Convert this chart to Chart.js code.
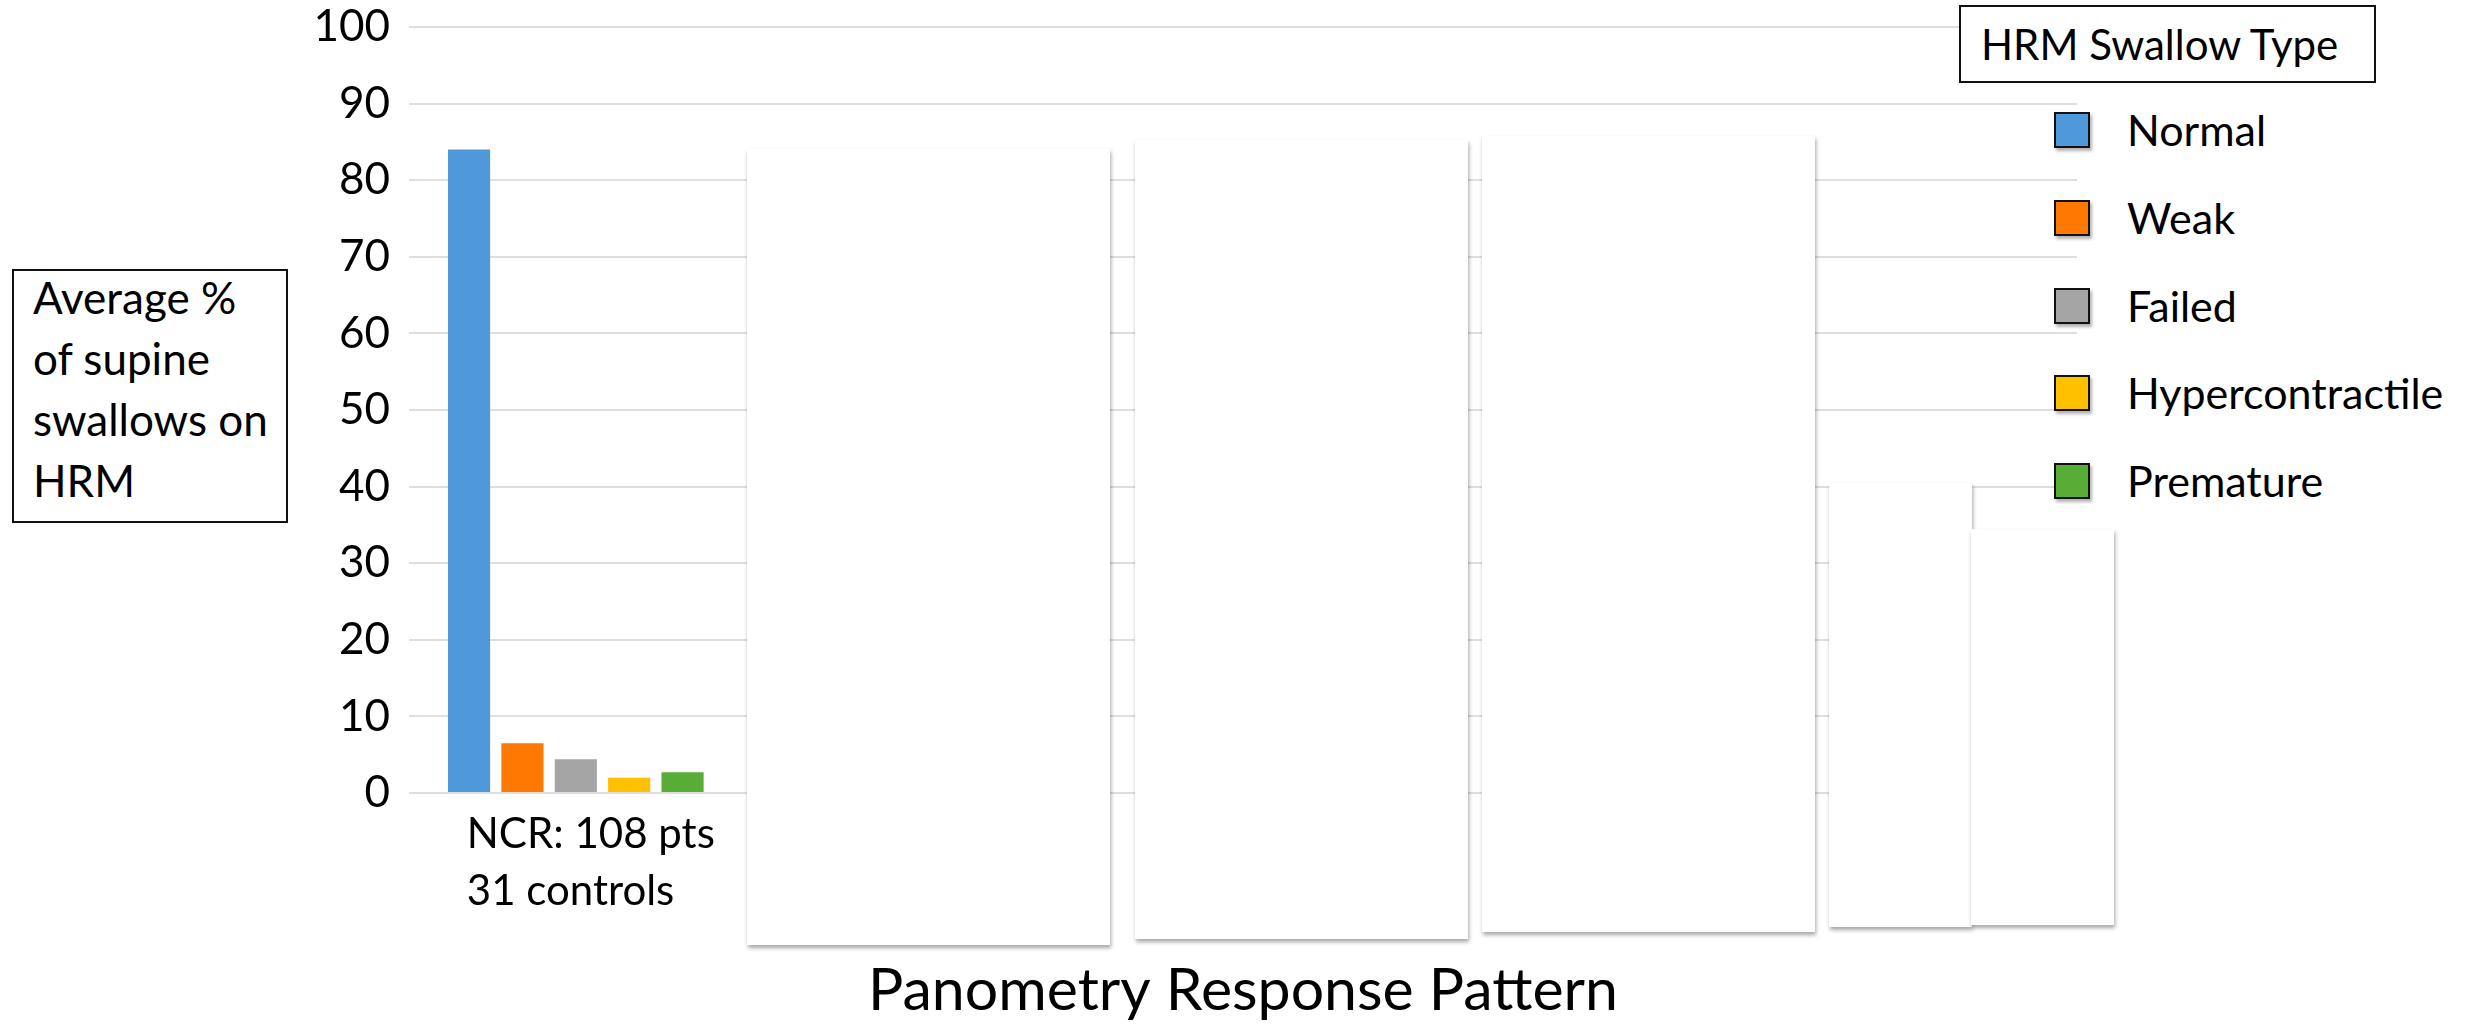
<!DOCTYPE html>
<html>
<head>
<meta charset="utf-8">
<script src="https://cdn.jsdelivr.net/npm/chart.js@4.4.1/dist/chart.umd.min.js"></script>
<style>
  body { margin: 0; background: #fff; font-family: Lato, sans-serif; }
  #wrap { position: relative; width: 2466px; height: 1026px; overflow: hidden; }
  #chart { position: absolute; left: 0; top: 0; }
  .cover { position: absolute; background: #fff; box-shadow: 1px 3px 4px rgba(0,0,0,0.35); }
  .box { position: absolute; box-sizing: border-box; border: 2px solid #111; background: #fff; color: #000; }
  .swatch { position: absolute; box-sizing: border-box; width: 36px; height: 36px; border: 2px solid #111;
            box-shadow: 2px 3px 3px rgba(0,0,0,0.3); }
  .ltext { position: absolute; left: 2105px; width: 361px; height: 88px; padding-left: 22px; box-sizing: border-box;
           background: #fff; font-size: 43px; line-height: 88px; color: #000; white-space: nowrap; }
</style>
</head>
<body>
<div id="wrap">
  <canvas id="chart" width="2466" height="1026"></canvas>
  <div class="box" style="left:12px;top:269px;width:276px;height:254px;padding-left:19px;">
    <div style="margin-top:-4px;font-size:44px;line-height:61px;">Average %<br>of supine<br>swallows on<br>HRM</div>
  </div>
  <div class="box" style="left:1959px;top:5px;width:417px;height:78px;padding-left:20px;font-size:42px;line-height:74px;">HRM Swallow Type</div>
  <div id="legend"></div>
</div>
<script>
// categories on the x axis (only the first one is shown, the rest are covered)
const categories = [["NCR: 108 pts", "31 controls"], "", "", "", ""];
const swallowTypes = ["Normal", "Weak", "Failed", "Hypercontractile", "Premature"];
const colors = ["#4F98D9", "#FF7800", "#A5A5A5", "#FFC000", "#58AD36"];

// average % of supine swallows per type
const normal = [84, null, null, null, null];
const weak = [6.5, null, null, null, null];
const failed = [4.4, null, null, null, null];
const hypercontractile = [2.0, null, null, null, null];
const premature = [2.7, null, null, null, null];

const seriesValues = [normal, weak, failed, hypercontractile, premature];

// white boxes that hide the other response patterns
const covers = [
  [747, 149, 363, 796],
  [1135, 140, 333, 799],
  [1482, 136, 333, 796],
  [1829, 483, 143, 444],
  [1971, 529, 143, 396]
];

const wrap = document.getElementById("wrap");
covers.forEach(c => {
  const d = document.createElement("div");
  d.className = "cover";
  d.style.left = c[0] + "px";
  d.style.top = c[1] + "px";
  d.style.width = c[2] + "px";
  d.style.height = c[3] + "px";
  wrap.appendChild(d);
});

const legend = document.getElementById("legend");
swallowTypes.forEach((name, i) => {
  const top = 112 + i * 87.75;
  const sw = document.createElement("div");
  sw.className = "swatch";
  sw.style.left = "2054px";
  sw.style.top = top + "px";
  sw.style.background = colors[i];
  legend.appendChild(sw);
  const t = document.createElement("div");
  t.className = "ltext";
  t.style.top = (top - 26) + "px";
  t.innerText = name;
  legend.appendChild(t);
});

Chart.defaults.font.family = "Lato";
Chart.defaults.color = "#000";

const ctx = document.getElementById("chart").getContext("2d");
new Chart(ctx, {
  type: "bar",
  data: {
    labels: categories,
    datasets: swallowTypes.map((name, i) => ({
      label: name,
      data: seriesValues[i],
      backgroundColor: colors[i],
      categoryPercentage: 0.8,
      barPercentage: 0.79
    }))
  },
  options: {
    responsive: false,
    animation: false,
    layout: { padding: { top: 27, right: 389, bottom: 0, left: 0 } },
    plugins: { legend: { display: false }, tooltip: { enabled: false } },
    scales: {
      x: {
        grid: { display: false, drawTicks: false },
        border: { display: false },
        ticks: { align: "start", labelOffset: -109, padding: 13, font: { size: 42, lineHeight: 1.357 }, maxRotation: 0, autoSkip: false },
        title: { display: true, text: "Panometry Response Pattern", font: { size: 59, lineHeight: 1.2 }, padding: { top: 0, bottom: 0 } },
        afterFit: s => { s.height = 233; s.paddingLeft = 0; s.paddingRight = 0; }
      },
      y: {
        min: 0,
        max: 100,
        grid: { color: "#DEDEDE", lineWidth: 2, drawTicks: false },
        border: { display: false },
        ticks: { stepSize: 10, padding: 19, font: { size: 44 } },
        afterFit: s => { s.width = 409; s.paddingTop = 0; s.paddingBottom = 0; }
      }
    }
  }
});
</script>
</body>
</html>
